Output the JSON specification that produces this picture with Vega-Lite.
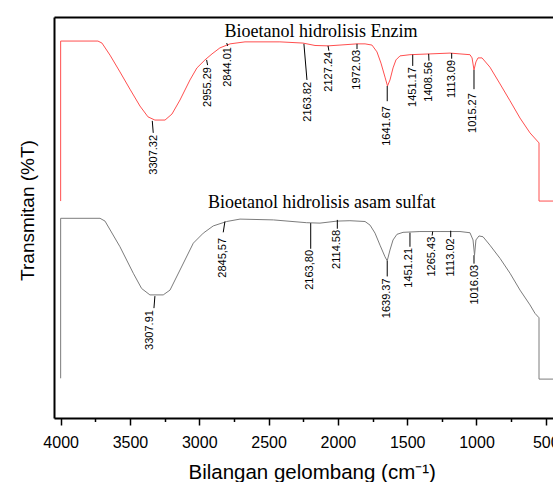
{
  "$schema": "https://vega.github.io/schema/vega-lite/v6.json",
  "width": 499,
  "height": 401,
  "autosize": {"type": "none"},
  "padding": {"left": 54, "top": 17, "right": 0, "bottom": 64},
  "background": "white",
  "config": {
    "view": {"stroke": null},
    "axisY": {"orient": "left", "labels": false, "ticks": false, "grid": false,
      "domain": true, "domainColor": "black", "domainWidth": 2,
      "titleFont": "Liberation Sans", "titleFontSize": 19,
      "titleFontWeight": "normal", "titleColor": "black", "titleX": -21, "titleY": 193,
      "titleAngle": 270, "titleAlign": "center", "titleBaseline": "alphabetic"}
  },
  "datasets": {
    "spectra": [
      {"w": 4000, "T": 54.1, "s": "Enzim"}, {"w": 4000, "T": 94.0, "s": "Enzim"}, {"w": 3731, "T": 94.0, "s": "Enzim"}, {"w": 3702, "T": 93.5, "s": "Enzim"},
      {"w": 3644, "T": 90.5, "s": "Enzim"}, {"w": 3572, "T": 86.3, "s": "Enzim"}, {"w": 3500, "T": 82.0, "s": "Enzim"}, {"w": 3428, "T": 77.8, "s": "Enzim"},
      {"w": 3370, "T": 75.1, "s": "Enzim"}, {"w": 3320, "T": 74.3, "s": "Enzim"}, {"w": 3247, "T": 74.3, "s": "Enzim"}, {"w": 3197, "T": 75.8, "s": "Enzim"},
      {"w": 3139, "T": 79.3, "s": "Enzim"}, {"w": 3067, "T": 84.3, "s": "Enzim"}, {"w": 3017, "T": 87.3, "s": "Enzim"}, {"w": 2959, "T": 89.3, "s": "Enzim"},
      {"w": 2908, "T": 90.8, "s": "Enzim"}, {"w": 2851, "T": 92.3, "s": "Enzim"}, {"w": 2778, "T": 93.3, "s": "Enzim"}, {"w": 2670, "T": 93.8, "s": "Enzim"},
      {"w": 2418, "T": 93.8, "s": "Enzim"}, {"w": 2252, "T": 93.5, "s": "Enzim"}, {"w": 2165, "T": 92.9, "s": "Enzim"}, {"w": 2071, "T": 92.8, "s": "Enzim"},
      {"w": 1985, "T": 93.0, "s": "Enzim"}, {"w": 1862, "T": 93.3, "s": "Enzim"}, {"w": 1804, "T": 93.3, "s": "Enzim"}, {"w": 1754, "T": 93.0, "s": "Enzim"},
      {"w": 1718, "T": 91.3, "s": "Enzim"}, {"w": 1689, "T": 88.5, "s": "Enzim"}, {"w": 1660, "T": 85.0, "s": "Enzim"}, {"w": 1642, "T": 82.8, "s": "Enzim"},
      {"w": 1624, "T": 84.3, "s": "Enzim"}, {"w": 1602, "T": 87.3, "s": "Enzim"}, {"w": 1581, "T": 89.3, "s": "Enzim"}, {"w": 1552, "T": 90.3, "s": "Enzim"},
      {"w": 1480, "T": 90.6, "s": "Enzim"}, {"w": 1335, "T": 90.8, "s": "Enzim"}, {"w": 1191, "T": 91.0, "s": "Enzim"}, {"w": 1119, "T": 90.8, "s": "Enzim"},
      {"w": 1047, "T": 90.6, "s": "Enzim"}, {"w": 1032, "T": 89.8, "s": "Enzim"}, {"w": 1018, "T": 86.8, "s": "Enzim"}, {"w": 1004, "T": 88.8, "s": "Enzim"},
      {"w": 989, "T": 89.8, "s": "Enzim"}, {"w": 960, "T": 89.8, "s": "Enzim"}, {"w": 903, "T": 87.5, "s": "Enzim"}, {"w": 830, "T": 83.3, "s": "Enzim"},
      {"w": 758, "T": 79.1, "s": "Enzim"}, {"w": 686, "T": 74.8, "s": "Enzim"}, {"w": 614, "T": 71.1, "s": "Enzim"}, {"w": 549, "T": 68.6, "s": "Enzim"},
      {"w": 549, "T": 54.1, "s": "Enzim"}, {"w": 300, "T": 54.1, "s": "Enzim"},
      {"w": 4000, "T": 9.9, "s": "Asam"}, {"w": 4000, "T": 49.8, "s": "Asam"}, {"w": 3716, "T": 49.8, "s": "Asam"}, {"w": 3680, "T": 49.1, "s": "Asam"},
      {"w": 3572, "T": 42.7, "s": "Asam"}, {"w": 3476, "T": 36.1, "s": "Asam"}, {"w": 3416, "T": 32.3, "s": "Asam"}, {"w": 3356, "T": 30.7, "s": "Asam"},
      {"w": 3260, "T": 30.7, "s": "Asam"}, {"w": 3211, "T": 31.9, "s": "Asam"}, {"w": 3139, "T": 36.9, "s": "Asam"}, {"w": 3043, "T": 43.6, "s": "Asam"},
      {"w": 2971, "T": 46.1, "s": "Asam"}, {"w": 2899, "T": 47.9, "s": "Asam"}, {"w": 2802, "T": 49.0, "s": "Asam"}, {"w": 2706, "T": 49.6, "s": "Asam"},
      {"w": 2466, "T": 49.4, "s": "Asam"}, {"w": 2225, "T": 48.7, "s": "Asam"}, {"w": 2129, "T": 48.6, "s": "Asam"}, {"w": 2006, "T": 49.1, "s": "Asam"},
      {"w": 1913, "T": 49.2, "s": "Asam"}, {"w": 1804, "T": 49.0, "s": "Asam"}, {"w": 1768, "T": 48.1, "s": "Asam"}, {"w": 1732, "T": 46.1, "s": "Asam"},
      {"w": 1696, "T": 43.1, "s": "Asam"}, {"w": 1660, "T": 40.2, "s": "Asam"}, {"w": 1644, "T": 39.2, "s": "Asam"}, {"w": 1624, "T": 41.9, "s": "Asam"},
      {"w": 1602, "T": 44.4, "s": "Asam"}, {"w": 1574, "T": 45.8, "s": "Asam"}, {"w": 1530, "T": 46.3, "s": "Asam"}, {"w": 1408, "T": 46.5, "s": "Asam"},
      {"w": 1263, "T": 46.5, "s": "Asam"}, {"w": 1119, "T": 46.5, "s": "Asam"}, {"w": 1047, "T": 46.2, "s": "Asam"}, {"w": 1025, "T": 44.4, "s": "Asam"},
      {"w": 1014, "T": 40.6, "s": "Asam"}, {"w": 1004, "T": 44.4, "s": "Asam"}, {"w": 982, "T": 45.4, "s": "Asam"}, {"w": 953, "T": 45.2, "s": "Asam"},
      {"w": 903, "T": 43.1, "s": "Asam"}, {"w": 830, "T": 39.8, "s": "Asam"}, {"w": 758, "T": 36.1, "s": "Asam"}, {"w": 686, "T": 31.9, "s": "Asam"},
      {"w": 614, "T": 28.2, "s": "Asam"}, {"w": 578, "T": 26.1, "s": "Asam"}, {"w": 549, "T": 25.0, "s": "Asam"}, {"w": 549, "T": 9.7, "s": "Asam"},
      {"w": 300, "T": 9.7, "s": "Asam"}
    ],
    "peaks": [
      {"label": "3307.32", "wl": 3325, "Tl": 70.6, "w1": 3339, "T1": 74.1, "w2": 3332, "T2": 71.1},
      {"label": "2955.29", "wl": 2935, "Tl": 87.5, "w1": 2947, "T1": 89.3, "w2": 2940, "T2": 88.0},
      {"label": "2844.01", "wl": 2791, "Tl": 92.5, "w1": 2802, "T1": 93.5, "w2": 2795, "T2": 92.8},
      {"label": "2163.82", "wl": 2216, "Tl": 83.8, "w1": 2245, "T1": 93.3, "w2": 2223, "T2": 84.3},
      {"label": "2127.24", "wl": 2062, "Tl": 91.3, "w1": 2071, "T1": 92.8, "w2": 2065, "T2": 91.6},
      {"label": "1972.03", "wl": 1860, "Tl": 91.8, "w1": 1862, "T1": 93.3, "w2": 1862, "T2": 92.0},
      {"label": "1641.67", "wl": 1648, "Tl": 77.8, "w1": 1644, "T1": 82.8, "w2": 1644, "T2": 79.0},
      {"label": "1451.17", "wl": 1460, "Tl": 87.5, "w1": 1460, "T1": 90.6, "w2": 1460, "T2": 87.8},
      {"label": "1408.56", "wl": 1341, "Tl": 88.8, "w1": 1345, "T1": 90.8, "w2": 1343, "T2": 89.1},
      {"label": "1113.09", "wl": 1179, "Tl": 89.3, "w1": 1179, "T1": 91.0, "w2": 1179, "T2": 89.6},
      {"label": "1015.27", "wl": 1023, "Tl": 81.0, "w1": 1018, "T1": 86.8, "w2": 1018, "T2": 82.0},
      {"label": "3307.91", "wl": 3352, "Tl": 26.9, "w1": 3320, "T1": 30.4, "w2": 3327, "T2": 27.4},
      {"label": "2845,57", "wl": 2827, "Tl": 44.9, "w1": 2815, "T1": 49.0, "w2": 2827, "T2": 46.3},
      {"label": "2163,80", "wl": 2201, "Tl": 41.9, "w1": 2196, "T1": 48.6, "w2": 2196, "T2": 42.2},
      {"label": "2114.58", "wl": 2004, "Tl": 46.9, "w1": 2004, "T1": 49.4, "w2": 2004, "T2": 47.2},
      {"label": "1639.37", "wl": 1644, "Tl": 34.8, "w1": 1644, "T1": 39.2, "w2": 1644, "T2": 35.3},
      {"label": "1451.21", "wl": 1485, "Tl": 42.4, "w1": 1480, "T1": 46.2, "w2": 1480, "T2": 42.7},
      {"label": "1265.43", "wl": 1323, "Tl": 45.2, "w1": 1316, "T1": 46.5, "w2": 1320, "T2": 45.5},
      {"label": "1113.02", "wl": 1186, "Tl": 44.8, "w1": 1186, "T1": 46.7, "w2": 1186, "T2": 45.1},
      {"label": "1016.03", "wl": 1011, "Tl": 38.2, "w1": 1018, "T1": 40.6, "w2": 1018, "T2": 38.5}
    ],
    "titles": [
      {"txt": "Bioetanol hidrolisis Enzim", "w": 2122, "T": 95.1},
      {"txt": "Bioetanol hidrolisis asam sulfat", "w": 2117, "T": 52.3}
    ]
  },
  "resolve": {"axis": {"x": "independent"}},
  "layer": [
    {
      "data": {"name": "spectra"},
      "mark": {"type": "line", "strokeWidth": 1, "clip": true},
      "encoding": {
        "x": {"field": "w", "type": "quantitative",
          "scale": {"domain": [4048, 448], "nice": false, "zero": false},
          "axis": {"orient": "bottom", "values": [4000, 3500, 3000, 2500, 2000, 1500, 1000, 500], "format": "d",
            "grid": false, "domain": true, "domainColor": "black", "domainWidth": 2,
            "tickColor": "black", "tickSize": 7, "tickWidth": 1.5,
            "labelFont": "Liberation Sans", "labelFontSize": 16, "labelColor": "black", "labelPadding": 9,
            "labelFlush": false, "labelOverlap": false,
            "title": "Bilangan gelombang (cm⁻¹)", "titleFont": "Liberation Sans", "titleFontSize": 20.5,
            "titleFontWeight": "normal", "titleColor": "black", "titleX": 257.7, "titleY": 60,
            "titleAlign": "center", "titleBaseline": "alphabetic"}},
        "y": {"field": "T", "type": "quantitative", "title": "Transmitan (%T)",
          "scale": {"domain": [0, 100], "nice": false, "zero": false}},
        "color": {"field": "s", "type": "nominal",
          "scale": {"domain": ["Enzim", "Asam"], "range": ["#ff4f4f", "#7c7c7c"]}, "legend": null},
        "order": {"value": null}
      }
    },
    {
      "data": {"name": "peaks"},
      "mark": {"type": "rule", "color": "black", "strokeWidth": 1},
      "encoding": {
        "x": {"field": "w1", "type": "quantitative",
          "scale": {"domain": [4048, 448], "nice": false, "zero": false},
          "axis": {"orient": "bottom", "values": [3750, 3250, 2750, 2250, 1750, 1250, 750],
            "labels": false, "domain": false, "grid": false, "title": null,
            "tickColor": "black", "tickSize": 3.5, "tickWidth": 1.5}},
        "x2": {"field": "w2"},
        "y": {"field": "T1", "type": "quantitative", "title": "Transmitan (%T)", "scale": {"domain": [0, 100], "nice": false, "zero": false}},
        "y2": {"field": "T2"}
      }
    },
    {
      "data": {"name": "peaks"},
      "mark": {"type": "text", "angle": 270, "align": "right", "baseline": "middle",
        "font": "Liberation Sans", "fontSize": 11, "color": "black"},
      "encoding": {
        "x": {"field": "wl", "type": "quantitative", "scale": {"domain": [4048, 448], "nice": false, "zero": false}, "axis": null},
        "y": {"field": "Tl", "type": "quantitative", "title": "Transmitan (%T)", "scale": {"domain": [0, 100], "nice": false, "zero": false}},
        "text": {"field": "label"}
      }
    },
    {
      "data": {"name": "titles"},
      "mark": {"type": "text", "align": "center", "baseline": "alphabetic",
        "font": "Liberation Serif", "fontSize": 18, "color": "black"},
      "encoding": {
        "x": {"field": "w", "type": "quantitative",
          "scale": {"domain": [4048, 448], "nice": false, "zero": false},
          "axis": {"orient": "top", "labels": false, "ticks": false, "grid": false, "title": null,
            "domain": true, "domainColor": "black", "domainWidth": 2}},
        "y": {"field": "T", "type": "quantitative", "title": "Transmitan (%T)", "scale": {"domain": [0, 100], "nice": false, "zero": false}},
        "text": {"field": "txt"}
      }
    }
  ]
}
